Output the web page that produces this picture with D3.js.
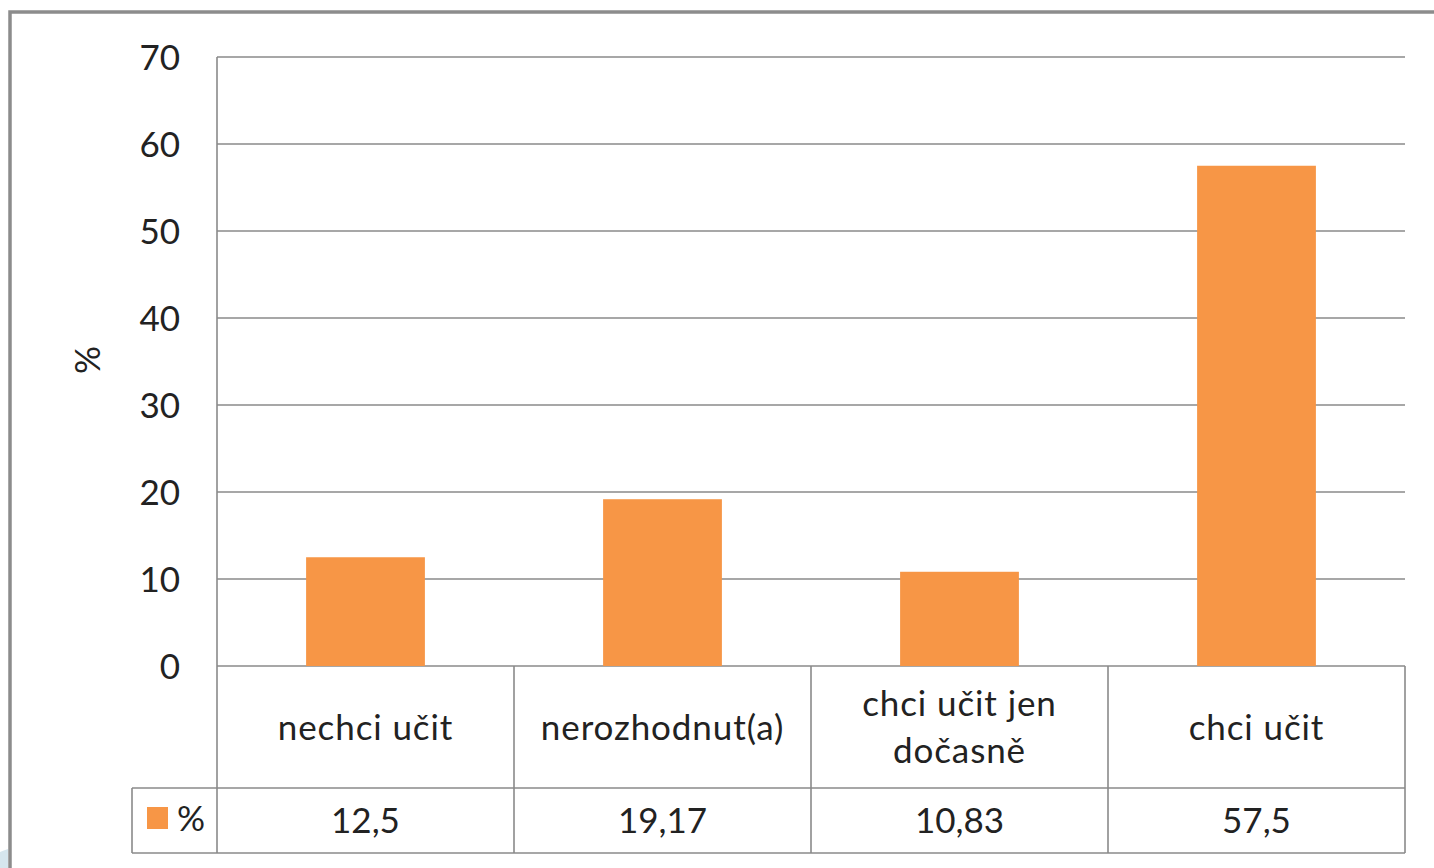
<!DOCTYPE html>
<html>
<head>
<meta charset="utf-8">
<script src="https://cdn.jsdelivr.net/npm/d3@7"></script>
<style>
  body { margin: 0; background: #fff; }
  svg { display: block; }
  text { font-family: Lato, "Open Sans", sans-serif; fill: #222; }
</style>
</head>
<body>
<div id="container"></div>
<script>
(function() {

let categories = ["nechci učit", "nerozhodnut(a)", "chci učit jen dočasně", "chci učit"];
let catLines = [["nechci učit"], ["nerozhodnut(a)"], ["chci učit jen", "dočasně"], ["chci učit"]];
let values = [12.5, 19.17, 10.83, 57.5];
let valueLabels = ["12,5", "19,17", "10,83", "57,5"];
let yTicks = [0, 10, 20, 30, 40, 50, 60, 70];
let seriesName = "%";

let width = 1434;
let height = 868;
let plot = { left: 217, right: 1405, top: 57, bottom: 666 };
let row1 = 788, row2 = 853, legendLeft = 132;
let grid = "#8a8a8a";
let orange = "#F79646";
let fs = "35px";

let svg = d3.select("#container")
  .append("svg")
    .attr("width", width)
    .attr("height", height);

// outer chart border (cropped at right and bottom)
svg.append("path")
  .attr("d", "M10,868 V12 H1434")
  .attr("fill", "none")
  .attr("stroke", "#8c8c8c")
  .attr("stroke-width", 3.5);

// small light blue artifact bottom-left
svg.append("path")
  .attr("d", "M0,852 Q5,850 8,849 V868 H0 Z")
  .attr("fill", "#d6e6ee");

let x = d3.scaleBand()
  .domain(categories)
  .range([plot.left, plot.right])
  .paddingInner(0.6)
  .paddingOuter(0.3);

let y = d3.scaleLinear()
  .domain([0, 70])
  .range([plot.bottom, plot.top]);

// gridlines
svg.append("g")
  .selectAll("line")
  .data(yTicks)
  .enter()
  .append("line")
    .attr("x1", plot.left)
    .attr("x2", plot.right)
    .attr("y1", (d) => y(d))
    .attr("y2", (d) => y(d))
    .attr("stroke", grid)
    .attr("stroke-width", 1.6);

// y tick labels
svg.append("g")
  .selectAll("text")
  .data(yTicks)
  .enter()
  .append("text")
    .attr("x", 180)
    .attr("y", (d) => y(d))
    .attr("dy", "0.36em")
    .attr("text-anchor", "end")
    .style("font-size", fs)
    .text((d) => d);

// y axis title
svg.append("text")
  .attr("transform", "translate(87,360) rotate(-90)")
  .attr("text-anchor", "middle")
  .attr("dy", "0.36em")
  .style("font-size", fs)
  .text(seriesName);

// bars
svg.append("g")
  .selectAll("rect")
  .data(values)
  .enter()
  .append("rect")
    .attr("x", (d, i) => x(categories[i]))
    .attr("width", x.bandwidth())
    .attr("y", (d) => y(d))
    .attr("height", (d) => y(0) - y(d))
    .attr("fill", orange);

// data table lines
let step = x.step();
let tbl = svg.append("g")
  .attr("stroke", grid)
  .attr("stroke-width", 1.6)
  .attr("fill", "none");

// vertical axis line through table
tbl.append("line")
  .attr("x1", plot.left).attr("x2", plot.left)
  .attr("y1", plot.top).attr("y2", row2);
// category separators
tbl.selectAll(".sep")
  .data(categories)
  .enter()
  .append("line")
    .attr("x1", (d) => x(d) - x.paddingOuter() * step + step)
    .attr("x2", (d) => x(d) - x.paddingOuter() * step + step)
    .attr("y1", plot.bottom)
    .attr("y2", row2);
tbl.append("line")
  .attr("x1", legendLeft).attr("x2", plot.right)
  .attr("y1", row1).attr("y2", row1);
tbl.append("line")
  .attr("x1", legendLeft).attr("x2", plot.right)
  .attr("y1", row2).attr("y2", row2);
tbl.append("line")
  .attr("x1", legendLeft).attr("x2", legendLeft)
  .attr("y1", row1).attr("y2", row2);

// category labels
let catG = svg.append("g")
  .selectAll("text")
  .data(catLines)
  .enter()
  .append("text")
    .attr("text-anchor", "middle")
    .style("font-size", fs)
    .style("letter-spacing", "0.9px")
    .attr("transform", (d, i) => "translate(" + (x(categories[i]) + x.bandwidth() / 2) + "," + ((plot.bottom + row1) / 2) + ")");

catG.selectAll("tspan")
  .data((d) => d.map((t, j) => ({ t: t, j: j, n: d.length })))
  .enter()
  .append("tspan")
    .attr("x", 0)
    .attr("y", (d) => (d.j - (d.n - 1) / 2) * 47)
    .attr("dy", "0.36em")
    .text((d) => d.t);

// value row
svg.append("g")
  .selectAll("text")
  .data(valueLabels)
  .enter()
  .append("text")
    .attr("x", (d, i) => x(categories[i]) + x.bandwidth() / 2)
    .attr("y", (row1 + row2) / 2)
    .attr("dy", "0.36em")
    .attr("text-anchor", "middle")
    .style("font-size", fs)
    .text((d) => d);

// legend key
svg.append("rect")
  .attr("x", 147)
  .attr("y", 807)
  .attr("width", 21)
  .attr("height", 22)
  .attr("fill", orange);
svg.append("text")
  .attr("x", 177)
  .attr("y", 818)
  .attr("dy", "0.36em")
  .style("font-size", fs)
  .text(seriesName);

})();
</script>
</body>
</html>
